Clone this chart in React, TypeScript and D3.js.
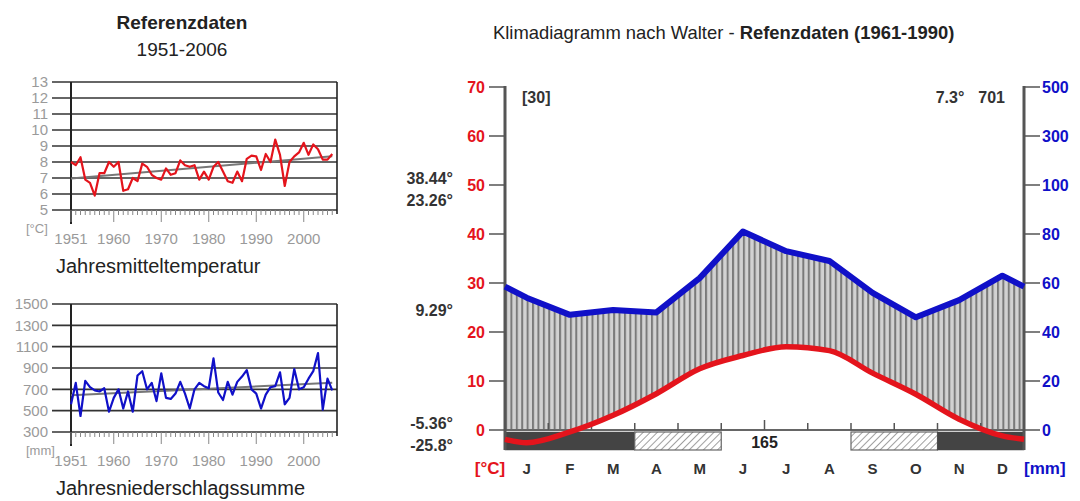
import React from "react";
import * as d3 from "d3";

// monthly normals 1961-1990
const months = ["J", "F", "M", "A", "M", "J", "J", "A", "S", "O", "N", "D"];
const monthTemp = [-2.6, -0.4, 3.0, 7.4, 12.5, 15.2, 17.0, 16.2, 11.6, 7.3, 2.2, -1.2];
const monthPrecip = [54, 47, 49, 48, 62, 81, 73, 69, 56, 46, 53, 63];
const tempTicks = [0, 10, 20, 30, 40, 50, 60, 70];
const precipTicks = [0, 20, 40, 60, 80, 100, 300, 500];
// frost: 2 = sicher, 1 = möglich, 0 = frostfrei
const frostMonths = [2, 2, 2, 1, 1, 0, 0, 0, 1, 1, 2, 2];
const frostFreeDays = "165";
const statsHigh = ["38.44°", "23.26°"];
const statMidLabel = "9.29°";
const statsLow = ["-5.36°", "-25.8°"];
const yearsLabel = "[30]";
const meanLabel = "7.3°";
const sumLabel = "701";

// annual series 1951-2006
const firstYear = 1951;
const yearTicks = [1951, 1960, 1970, 1980, 1990, 2000];
const annualTemp = [
  8.0, 7.8, 8.3, 6.9, 6.7, 5.9, 7.3, 7.3, 8.0, 7.7,
  8.0, 6.2, 6.3, 7.0, 6.8, 7.9, 7.7, 7.2, 7.0, 6.9,
  7.6, 7.2, 7.3, 8.1, 7.8, 7.7, 7.8, 6.9, 7.4, 6.9,
  7.7, 8.0, 7.4, 6.8, 6.7, 7.4, 6.8, 8.2, 8.4, 8.35,
  7.5, 8.5, 8.0, 9.4, 8.45, 6.5, 8.0, 8.35, 8.6, 9.2,
  8.45, 9.1, 8.8, 8.15, 8.15, 8.5,
];
const annualPrecip = [
  560, 760, 450, 780, 720, 690, 680, 710, 490, 620,
  700, 520, 680, 490, 830, 870, 700, 760, 590, 850,
  620, 610, 660, 770, 660, 520, 700, 760, 730, 710,
  990, 670, 600, 770, 650, 770, 820, 880, 700, 660,
  520, 650, 720, 730, 860, 560, 620, 890, 700, 720,
  800, 870, 1040, 510, 800, 690,
];
const tempGrid = [5, 6, 7, 8, 9, 10, 11, 12, 13];
const precipGrid = [300, 500, 700, 900, 1100, 1300, 1500];

const font = "'Liberation Sans', Arial, sans-serif";
const RED = "#e4141c";
const BLUE = "#1010c8";

function trend(vals: number[]) {
  const xs = vals.map((_, i) => i);
  const mx = d3.mean(xs)!;
  const my = d3.mean(vals)!;
  const b =
    d3.sum(xs, (x, i) => (x - mx) * (vals[i] - my)) / d3.sum(xs, (x) => (x - mx) ** 2);
  return [my - b * mx, my + b * (vals.length - 1 - mx)];
}

function SmallChart({ data, grid, top, bottom, color, unit, caption }: any) {
  const left = 71;
  const right = 337;
  const x = d3.scaleLinear().domain([firstYear, firstYear + 56]).range([left, right]);
  const y = d3.scaleLinear().domain([grid[0], grid[grid.length - 1]]).range([bottom, top]);
  const line = d3
    .line<number>()
    .x((_, i) => x(firstYear + i))
    .y((d) => y(d));
  const [t0, t1] = trend(data);
  const years = data.map((_: number, i: number) => firstYear + i);
  return (
    <g fontFamily={font}>
      {grid.map((g: number) => (
        <g key={g}>
          <line x1={52} x2={right} y1={y(g)} y2={y(g)} stroke="#333" strokeWidth={1.6} />
          <text x={48} y={y(g)} dy="0.35em" textAnchor="end" fontSize={15} fill="#9a9a9a">
            {g}
          </text>
        </g>
      ))}
      <line x1={left} x2={left} y1={top} y2={bottom + 14} stroke="#222" strokeWidth={2} />
      <line x1={right} x2={right} y1={top} y2={bottom + 4} stroke="#222" strokeWidth={1.6} />
      {years.map((yr: number) => {
        const major = yearTicks.includes(yr);
        return (
          <line
            key={yr}
            x1={x(yr)}
            x2={x(yr)}
            y1={bottom}
            y2={bottom + (major ? 12 : 5)}
            stroke="#888"
            strokeWidth={1}
          />
        );
      })}
      {yearTicks.map((yr) => (
        <text key={yr} x={x(yr)} y={bottom + 34} textAnchor="middle" fontSize={15} fill="#9a9a9a">
          {yr}
        </text>
      ))}
      <text x={26} y={bottom + 23} fontSize={13} fill="#9a9a9a">
        {unit}
      </text>
      <line
        x1={x(firstYear)}
        x2={x(firstYear + data.length - 1)}
        y1={y(t0)}
        y2={y(t1)}
        stroke="#777"
        strokeWidth={2}
      />
      <path d={line(data) || ""} fill="none" stroke={color} strokeWidth={2.2} strokeLinejoin="round" />
      <text x={56} y={bottom + 63} fontSize={20} fill="#222">
        {caption}
      </text>
    </g>
  );
}

function Walter() {
  const x0 = 505;
  const x1 = 1024;
  const zero = 430;
  const mx = d3.scaleBand<number>().domain(d3.range(12)).range([x0, x1]);
  const bw = mx.bandwidth();
  const ty = d3.scaleLinear().domain([0, 70]).range([zero, 87]);
  const py = d3.scaleLinear().domain([0, 100, 500]).range([zero, 185, 87]);

  const edge = (arr: number[]) => (arr[0] + arr[11]) / 2;
  const pts = (arr: number[]) => [
    { x: x0, v: edge(arr) },
    ...arr.map((v, i) => ({ x: mx(i)! + bw / 2, v })),
    { x: x1, v: edge(arr) },
  ];
  const tPts = pts(monthTemp);
  const pPts = pts(monthPrecip);

  const redLine = d3
    .line<{ x: number; v: number }>()
    .x((d) => d.x)
    .y((d) => ty(d.v))
    .curve(d3.curveMonotoneX);
  const blueLine = d3
    .line<{ x: number; v: number }>()
    .x((d) => d.x)
    .y((d) => py(d.v));
  const blueArea = d3
    .area<{ x: number; v: number }>()
    .x((d) => d.x)
    .y0(zero)
    .y1((d) => py(d.v));
  const redArea = d3
    .area<{ x: number; v: number }>()
    .x((d) => d.x)
    .y0(zero)
    .y1((d) => ty(d.v))
    .curve(d3.curveMonotoneX);

  // merge consecutive months of same frost class into one segment
  const segments: { start: number; end: number; kind: number }[] = [];
  frostMonths.forEach((f, i) => {
    const last = segments[segments.length - 1];
    if (last && last.kind === f) last.end = i + 1;
    else segments.push({ start: i, end: i + 1, kind: f });
  });

  const barTop = 432;
  const barBot = 450;

  return (
    <g fontFamily={font}>
      <defs>
        <pattern id="vstripes" width={bw / 8} height={10} patternUnits="userSpaceOnUse" x={x0}>
          <rect width={bw / 8} height={10} fill="#d2d2d2" />
          <rect x={0} width={2} height={10} fill="#7a7a7a" />
        </pattern>
        <pattern id="hatch" width={5} height={5} patternUnits="userSpaceOnUse" patternTransform="rotate(45)">
          <rect width={5} height={5} fill="#fff" />
          <line x1={0} y1={0} x2={0} y2={5} stroke="#777" strokeWidth={1.4} />
        </pattern>
        <clipPath id="aboveZero">
          <rect x={x0} y={80} width={x1 - x0} height={zero - 80} />
        </clipPath>
      </defs>

      <text x={493} y={39} fontSize={18.4} fill="#222">
        Klimadiagramm nach Walter - <tspan fontWeight="bold">Refenzdaten (1961-1990)</tspan>
      </text>

      <path d={blueArea(pPts) || ""} fill="url(#vstripes)" />
      <path d={redArea(tPts) || ""} fill="#fff" clipPath="url(#aboveZero)" />

      {segments.map((s, i) =>
        s.kind === 0 ? null : (
          <rect
            key={i}
            x={mx(s.start)}
            y={barTop}
            width={bw * (s.end - s.start)}
            height={barBot - barTop}
            fill={s.kind === 2 ? "#444" : "url(#hatch)"}
            stroke={s.kind === 2 ? "#444" : "#666"}
            strokeWidth={s.kind === 2 ? 0.5 : 1.2}
          />
        )
      )}
      <text x={mx(6)} y={448} textAnchor="middle" fontSize={16} fontWeight="bold" fill="#222">
        {frostFreeDays}
      </text>

      <line x1={x0} x2={x1} y1={zero} y2={zero} stroke="#666" strokeWidth={2} />
      {d3.range(1, 12).map((i) => (
        <line
          key={i}
          x1={mx(i)}
          x2={mx(i)}
          y1={zero}
          y2={zero - (i === 6 ? 10 : 7)}
          stroke="#555"
          strokeWidth={1.5}
        />
      ))}

      {/* left axis */}
      <line x1={x0} x2={x0} y1={ty(70) - 1} y2={barBot} stroke="#555" strokeWidth={3} />
      {tempTicks.map((t) => (
        <g key={t}>
          <line x1={489} x2={x0} y1={ty(t)} y2={ty(t)} stroke="#555" strokeWidth={1.5} />
          <text x={485} y={ty(t)} dy="0.35em" textAnchor="end" fontSize={16} fontWeight="bold" fill={RED}>
            {t}
          </text>
        </g>
      ))}
      {/* right axis */}
      <line x1={x1} x2={x1} y1={ty(70) - 1} y2={barBot} stroke="#555" strokeWidth={3} />
      {precipTicks.map((p) => (
        <g key={p}>
          <line x1={x1} x2={1040} y1={py(p)} y2={py(p)} stroke="#555" strokeWidth={1.5} />
          <text x={1042} y={py(p)} dy="0.35em" fontSize={16} fontWeight="bold" fill={BLUE}>
            {p}
          </text>
        </g>
      ))}

      <path d={blueLine(pPts) || ""} fill="none" stroke={BLUE} strokeWidth={6} strokeLinejoin="round" />
      <path d={redLine(tPts) || ""} fill="none" stroke={RED} strokeWidth={5.5} />

      {months.map((m, i) => (
        <text
          key={i}
          x={mx(i)! + bw / 2}
          y={474}
          textAnchor="middle"
          fontSize={15}
          fontWeight="bold"
          fill="#333"
        >
          {m}
        </text>
      ))}
      <text x={490} y={474} textAnchor="middle" fontSize={17} fontWeight="bold" fill={RED}>
        [°C]
      </text>
      <text x={1024} y={474} fontSize={17} fontWeight="bold" fill={BLUE}>
        [mm]
      </text>

      <text x={522} y={103} fontSize={16} fontWeight="bold" fill="#333">
        {yearsLabel}
      </text>
      <text x={1005} y={103} textAnchor="end" fontSize={16} fontWeight="bold" fill="#333">
        {meanLabel}
        <tspan dx={14}>{sumLabel}</tspan>
      </text>

      <g fontSize={16} fontWeight="bold" fill="#333" textAnchor="end">
        {statsHigh.map((s, i) => (
          <text key={s} x={453} y={184 + i * 22}>
            {s}
          </text>
        ))}
        <text x={453} y={316}>
          {statMidLabel}
        </text>
        {statsLow.map((s, i) => (
          <text key={s} x={453} y={429 + i * 22}>
            {s}
          </text>
        ))}
      </g>
    </g>
  );
}

export default function App() {
  return (
    <svg
      width={1080}
      height={501}
      style={{ position: "absolute", left: 0, top: 0, background: "#fff" }}
    >
      <text x={182} y={29} textAnchor="middle" fontFamily={font} fontSize={19} fontWeight="bold" fill="#222">
        Referenzdaten
      </text>
      <text x={182} y={56} textAnchor="middle" fontFamily={font} fontSize={19} fill="#222">
        1951-2006
      </text>
      <SmallChart
        data={annualTemp}
        grid={tempGrid}
        top={82}
        bottom={210}
        color={RED}
        unit="[°C]"
        caption="Jahresmitteltemperatur"
      />
      <SmallChart
        data={annualPrecip}
        grid={precipGrid}
        top={304}
        bottom={432}
        color={BLUE}
        unit="[mm]"
        caption="Jahresniederschlagssumme"
      />
      <Walter />
    </svg>
  );
}
